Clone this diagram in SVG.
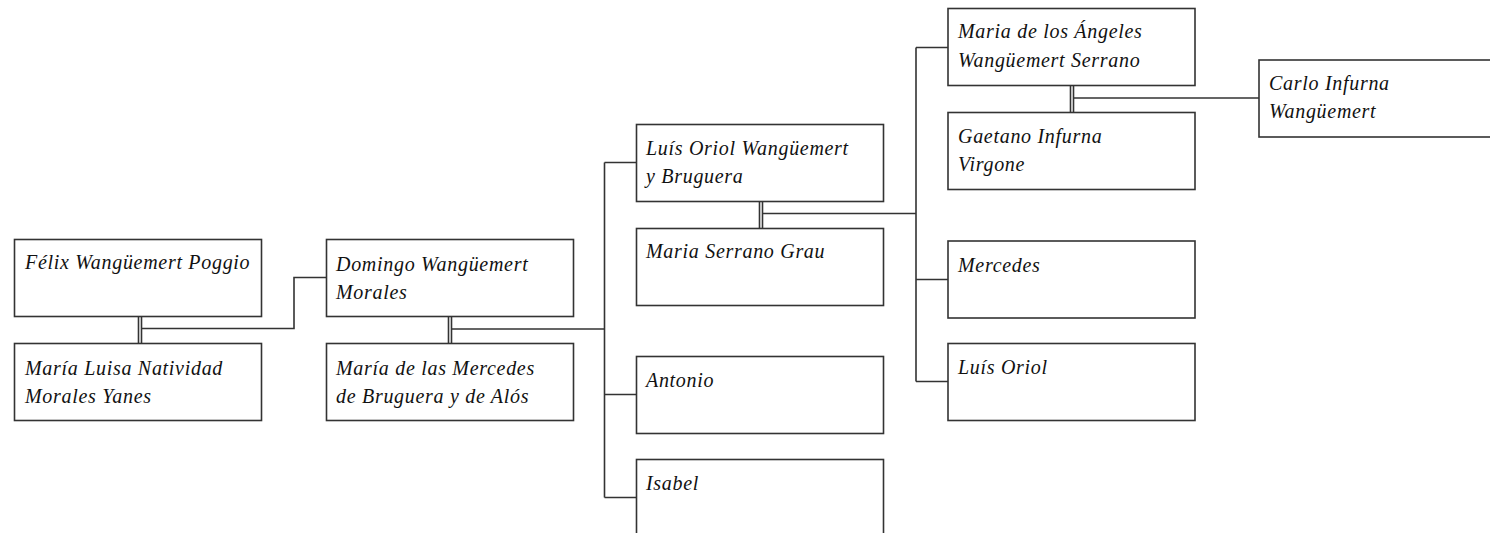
<svg xmlns="http://www.w3.org/2000/svg" width="1490" height="533" viewBox="0 0 1490 533">
<style>
.box{fill:#fff;stroke:#333;stroke-width:1.6}
.ln{fill:none;stroke:#333;stroke-width:1.6}
text{font-family:"Liberation Serif","Times New Roman",serif;font-style:italic;font-size:20px;letter-spacing:0.7px;fill:#111}
</style>
<rect width="1490" height="533" fill="#fff"/>
<g id="connectors">
<path class="ln" d="M138.5 316.5V343.5M141.5 316.5V343.5M141.5 328.5H294V277.5H326.5"/>
<path class="ln" d="M448.5 316.5V343.5M451.5 316.5V343.5M451.5 329H604.5M604.5 162.5V497.5M604.5 162.5H636.5M604.5 394.5H636.5M604.5 497.5H636.5"/>
<path class="ln" d="M759.5 201V228M762.5 201V228M762.5 213.5H916M916 47.5V381.5M916 47.5H948M916 279.5H948M916 381.5H948"/>
<path class="ln" d="M1070.5 85.5V112.5M1073.5 85.5V112.5M1073.5 98H1259"/>
</g>
<g id="felix"><rect class="box" x="14.5" y="239.5" width="247" height="77"/><text x="25" y="269">Félix Wangüemert Poggio</text></g>
<g id="maria-luisa"><rect class="box" x="14.5" y="343.5" width="247" height="77"/><text x="25" y="375">María Luisa Natividad</text><text x="25" y="403">Morales Yanes</text></g>
<g id="domingo"><rect class="box" x="326.5" y="239.5" width="247" height="77"/><text x="336" y="271">Domingo Wangüemert</text><text x="336" y="299">Morales</text></g>
<g id="maria-mercedes"><rect class="box" x="326.5" y="343.5" width="247" height="77"/><text x="336" y="375">María de las Mercedes</text><text x="336" y="403">de Bruguera y de Alós</text></g>
<g id="luis-oriol-wb"><rect class="box" x="636.5" y="124.5" width="247" height="77"/><text x="646" y="155">Luís Oriol Wangüemert</text><text x="646" y="183">y Bruguera</text></g>
<g id="maria-serrano"><rect class="box" x="636.5" y="228.5" width="247" height="77"/><text x="646" y="258">Maria Serrano Grau</text></g>
<g id="antonio"><rect class="box" x="636.5" y="356.5" width="247" height="77"/><text x="646" y="387">Antonio</text></g>
<g id="isabel"><rect class="box" x="636.5" y="459.5" width="247" height="77"/><text x="646" y="490">Isabel</text></g>
<g id="maria-angeles"><rect class="box" x="948" y="8.5" width="247" height="77"/><text x="958" y="38">Maria de los Ángeles</text><text x="958" y="67">Wangüemert Serrano</text></g>
<g id="gaetano"><rect class="box" x="948" y="112.5" width="247" height="77"/><text x="958" y="143">Gaetano Infurna</text><text x="958" y="171">Virgone</text></g>
<g id="mercedes"><rect class="box" x="948" y="241" width="247" height="77"/><text x="958" y="272">Mercedes</text></g>
<g id="luis-oriol"><rect class="box" x="948" y="343.5" width="247" height="77"/><text x="958" y="374">Luís Oriol</text></g>
<g id="carlo"><rect class="box" x="1259" y="60" width="247" height="77"/><text x="1269" y="90">Carlo Infurna</text><text x="1269" y="118">Wangüemert</text></g>
</svg>
